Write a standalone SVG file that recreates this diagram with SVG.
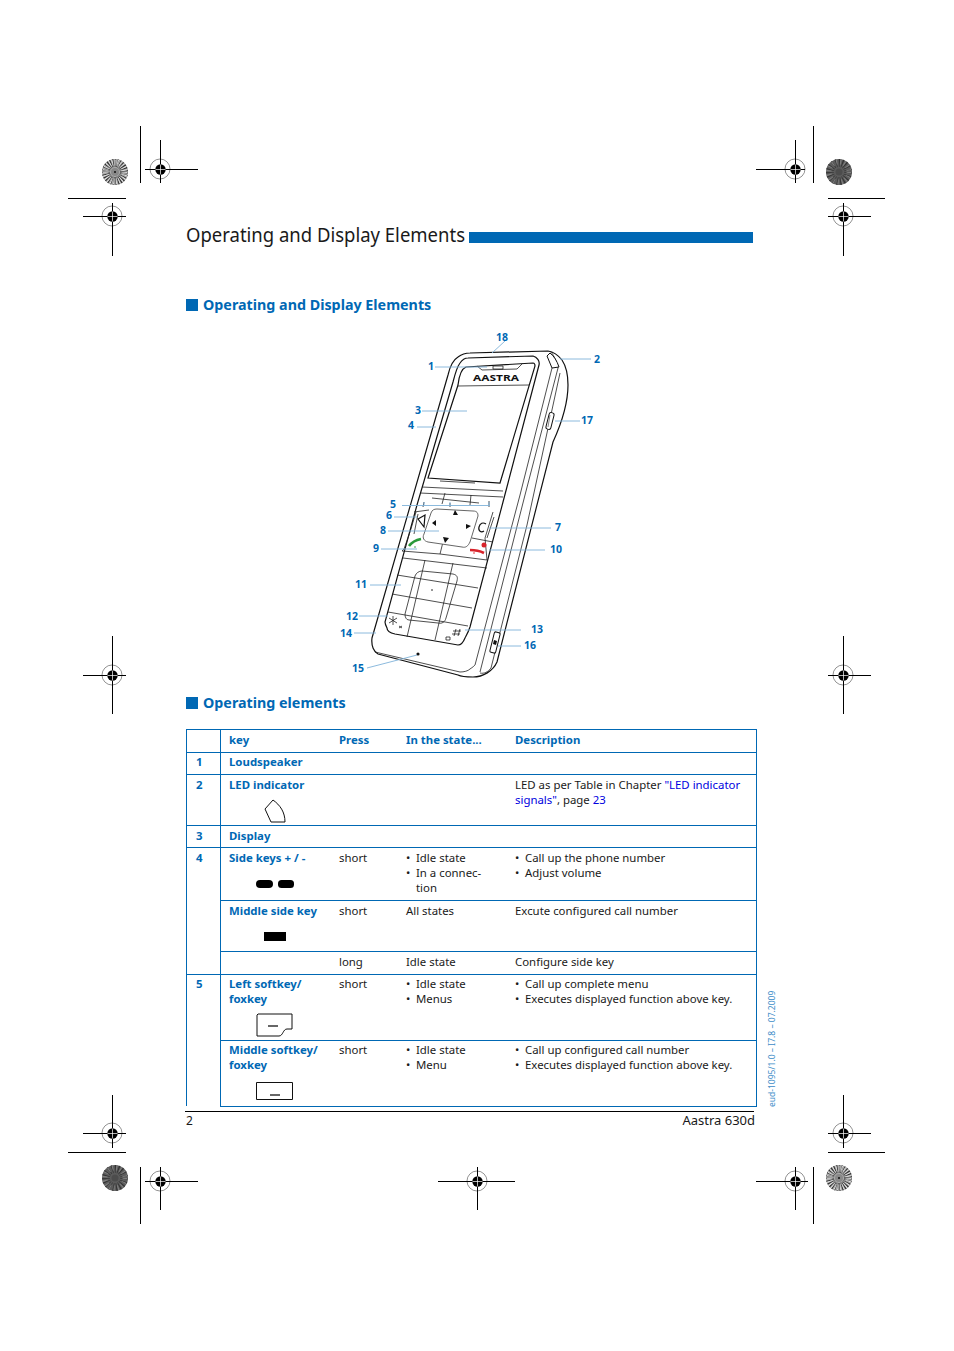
<svg xmlns="http://www.w3.org/2000/svg" width="954" height="1351" viewBox="0 0 954 1351">
<style>
text{font-family:"Noto Sans","Open Sans","Liberation Sans",sans-serif;font-size:11.4px;fill:#1a1a1a}
.b{font-weight:700;fill:#0068b4}
.h{font-weight:700;fill:#0068b4;font-size:14.3px}
.n{font-weight:700;fill:#0068b4;font-size:10.5px}
.l{fill:#0000e0}
.t{stroke:#0068b4;stroke-width:1;fill:none}
.r{stroke:#000;stroke-width:1;fill:none}
.p{stroke:#222;fill:none;stroke-width:.8}
.p2{stroke:#111;fill:none;stroke-width:1.2}
.c{stroke:#7fb2d9;stroke-width:.9;fill:none}
.ring{fill:none;stroke:#777;stroke-width:.8}
</style>
<defs>
<g id="reg"><circle r="5.2" fill="#000"/><path d="M0-5V5M-5 0H5" stroke="#fff" stroke-width=".7"/></g>
<g id="sunL"><circle r="13" fill="#aaa"/><circle r="9" fill="none" stroke="#333" stroke-width="8" stroke-dasharray="1 1.1"/><circle r="9.500" fill="none" stroke="#e4e4e4" stroke-width="6" stroke-dasharray=".8 1.8"/><circle r="4" fill="#888"/><circle r="1" fill="#111"/></g>
<g id="sunD"><circle r="13" fill="#5c5c5c"/><circle r="9" fill="none" stroke="#333" stroke-width="8" stroke-dasharray="1 2"/><circle r="10" fill="none" stroke="#808080" stroke-width="5" stroke-dasharray="1 3"/><circle r="3.500" fill="#4c4c4c"/></g>
</defs>
<rect width="954" height="1351" fill="#fff"/>
<g id="crop-marks">
<g class="ring"><circle class="ring" cx="160" cy="169" r="10"/><circle class="ring" cx="112" cy="216" r="10"/><circle class="ring" cx="795" cy="169" r="10"/><circle class="ring" cx="843" cy="216" r="10"/><circle class="ring" cx="112" cy="675" r="10"/><circle class="ring" cx="843" cy="675" r="10"/><circle class="ring" cx="112" cy="1133" r="10"/><circle class="ring" cx="160" cy="1181" r="10"/><circle class="ring" cx="477" cy="1181" r="10"/><circle class="ring" cx="795" cy="1181" r="10"/><circle class="ring" cx="843" cy="1133" r="10"/></g>
<path class="r" d="M140.500 126V183M145 169.500H198M160.500 140V183M68 198.500H126M83 216.500H126M112.500 203V256M813.500 126V183M756 169.500H805M795.500 140V183M828 198.500H885M828 216.500H871M843.500 203V256M83 675.500H126M112.500 636V714M828 675.500H871M843.500 636V714M68 1152.500H126M83 1133.500H126M112.500 1095V1148M140.500 1167V1224M145 1181.500H198M160.500 1167V1210M438 1181.500H515M477.500 1167V1210M756 1181.500H808M795.500 1167V1210M813.500 1167V1224M828 1152.500H885M828 1133.500H871M843.500 1095V1148"/>
<use href="#sunL" x="115" y="172"/><use href="#sunD" x="839" y="172"/><use href="#sunD" x="115" y="1178"/><use href="#sunL" x="839" y="1178"/>
<use href="#reg" x="160.500" y="169.500"/><use href="#reg" x="112.500" y="216.500"/><use href="#reg" x="795.500" y="169.500"/><use href="#reg" x="843.500" y="216.500"/><use href="#reg" x="112.500" y="675.500"/><use href="#reg" x="843.500" y="675.500"/><use href="#reg" x="112.500" y="1133.500"/><use href="#reg" x="160.500" y="1181.500"/><use href="#reg" x="477.500" y="1181.500"/><use href="#reg" x="795.500" y="1181.500"/><use href="#reg" x="843.500" y="1133.500"/>
</g>
<g id="title">
<text x="186" y="242" textLength="279" lengthAdjust="spacingAndGlyphs" style="font-size:19px">Operating and Display Elements</text>
<rect x="469" y="232" width="284" height="11" fill="#0068b4"/>
</g>
<g id="section-1"><rect x="186" y="299" width="12" height="12" fill="#0068b4"/><text class="h" x="203" y="310">Operating and Display Elements</text></g>
<g id="phone">
<path class="p2" d="M372 638L448 375C450 366 453 360 458 357C462 354 465 353 470 353L548 351C554 352 558 355 562 360C566 366 568 375 568 385C568 400 563 420 553 442L497 662C493 671 483 677 473 677C465 677 460 676 458 675L378 654C374 652 371 646 372 638Z"/>
<path class="p2" d="M417 505L453 382C455 374 457 367 460 363C462 360 465 358 468 358L533 356C537 357 540 361 539 365L503 502L470 627C468 633 466 636 465 638C463 643 461 645 458 645L395 634C390 633 387 631 387 628C386 626 385 624 385 622Z"/>
<path class="p" d="M375 652L460 672C464 672 468 671 470 669C473 667 474 666 475 665L520 495L552 368M480 672L525 495L558 368M550 351C553 354 556 359 558 368"/>
<path class="p" d="M480 673C484 674 488 672 491 668L527 525L560 373"/>
<path class="p2" d="M458 385C459 376 461 369 466 367L533 363C535 363 535 364 535 366L500 483L428 478Z"/>
<path class="p" d="M458 386L529 385M477 366L482 370L517 369L523 363M493 366H503V369H493Z"/>
<path class="p" d="M440 481L475 483M422 487L503 491M420 493L503 497"/>
<path class="p" d="M445 493L442 504M471 495L470 505M432 498L479 503M424 502L423 507M450 503L450 507M489 501L489 507M416 512L410 532L404 549L402 551L440 554L443 542M440 554L487 560M493 512L485 538L487 560M472 538L493 542M418 514L414 534M494 517L487 538M414 512L429 510"/>
<path stroke="#555" fill="#fff" stroke-width=".9" d="M437 509L473 511C477 511 478 513 478 516L470 542C468 546 466 548 462 547L428 542C424 541 422 538 424 534L431 513C432 510 434 509 437 509Z"/>
<path class="p" d="M403 558L487 568M397 575L478 588M392 594L472 608M388 612L468 626M425 560L407 637M453 563L435 640"/>
<path class="p" stroke="#555" d="M422 571L453 574C457 575 458 577 457 581L446 618C445 622 442 624 438 623L409 620C406 620 405 617 405 614L415 576C416 573 419 571 422 571Z"/>
<path class="p2" fill="none" d="M418 519L425 515L424 527Z"/>
<path fill="#111" d="M432 523L436 520L436 526ZM453 515L455 510L458 515ZM466 524L471 526L466 529ZM443 537L449 538L445 543Z"/>
<path d="M409 546C412 542 416 540 421 539" stroke="#2a9a3a" stroke-width="2.600" fill="none"/><circle cx="415" cy="547" r=".8" fill="#2a9a3a"/>
<path d="M470 550C475 550 480 551 484 553" stroke="#d8232a" stroke-width="2.600" fill="none"/><circle cx="484" cy="545" r="2.500" fill="#d8232a"/><circle cx="474" cy="553" r=".8" fill="#d8232a"/>
<path class="p2" stroke-width="1.600" d="M486 524C483 522 480 523 479 527C478 531 481 533 484 531"/>
<path class="p" d="M393 616V625M389 618L397 623M397 618L389 623M399 626L402 628M402 626L399 628M456 629L454 636M460 629L458 636M453 631H461M452 634H460M446 637H450V640H446Z"/>
<circle cx="418" cy="654" r="1.600" fill="#111"/><circle cx="432" cy="590" r=".8" fill="#111"/>
<rect x="-3" y="-10.500" width="6" height="21" rx="1.500" fill="#fff" stroke="#111" transform="translate(495 642.500) rotate(14)"/>
<path fill="#111" d="M494 640L497 641L496 645L493 644Z"/>
<rect x="-2.500" y="-8.500" width="5" height="17" rx="2" fill="#fff" stroke="#111" transform="translate(550 421) rotate(14)"/>
<path d="M550 415L548 427" stroke="#555" stroke-width=".7"/>
<path fill="#fff" stroke="#111" d="M547 356L550 353C554 356 557 361 559 367L552 368Z"/>
<text x="473" y="380.500" textLength="46" lengthAdjust="spacingAndGlyphs" style="font-size:8px;font-weight:700;fill:#111">AASTRA</text>
</g>
<g id="connectors">
<path class="c" d="M505 341L492 353M435 367H487M560 359H591M422 411H467M417 427H436M555 421H580M402 505.500L490 505.500M424 502V505M450 502V505M489 502V505M394 517H417M489 528H551M388 531L439 531M381 549H417M489 550H545M370 585H401M359 616H388M354 633H376M521 630H465M498 646H521M367 668L417 655"/>
</g>
<g id="labels">
<text class="n" x="496" y="341">18</text><text class="n" x="428" y="370">1</text><text class="n" x="594" y="363">2</text><text class="n" x="415" y="414">3</text><text class="n" x="408" y="429">4</text><text class="n" x="581" y="424">17</text><text class="n" x="390" y="508">5</text><text class="n" x="386" y="519">6</text><text class="n" x="555" y="531">7</text><text class="n" x="380" y="534">8</text><text class="n" x="373" y="552">9</text><text class="n" x="550" y="553">10</text><text class="n" x="355" y="588">11</text><text class="n" x="346" y="620">12</text><text class="n" x="531" y="633">13</text><text class="n" x="340" y="637">14</text><text class="n" x="352" y="672">15</text><text class="n" x="524" y="649">16</text>
</g>
<g id="section-2"><rect x="186" y="697" width="12" height="12" fill="#0068b4"/><text class="h" x="203" y="708">Operating elements</text></g>
<g id="table">
<path class="t" d="M186 729.500H757M186 752.500H757M186 774.500H757M186 825.500H757M186 847.500H757M220 900.500H757M220 951.500H757M186 974.500H757M220 1040.500H757M220 1106.500H757M186.500 729V1106M220.500 729V1106M756.500 729V1106"/>
<text class="b" x="229" y="744">key</text><text class="b" x="339" y="744">Press</text><text class="b" x="406" y="744">In the state...</text><text class="b" x="515" y="744">Description</text>
<text class="b" x="196" y="766">1</text><text class="b" x="229" y="766">Loudspeaker</text>
<text class="b" x="196" y="789">2</text><text class="b" x="229" y="789">LED indicator</text>
<text x="515" y="789">LED as per Table in Chapter <tspan class="l">"LED indicator</tspan></text>
<text x="515" y="804"><tspan class="l">signals"</tspan>, page <tspan class="l">23</tspan></text>
<path d="M265 809L273 800C280 805 285 812 285 822H271Z" fill="none" stroke="#111"/>
<text class="b" x="196" y="840">3</text><text class="b" x="229" y="840">Display</text>
<text class="b" x="196" y="862">4</text><text class="b" x="229" y="862">Side keys + / -</text>
<text x="339" y="862">short</text><text x="406" y="862">•</text><text x="416" y="862">Idle state</text><text x="406" y="877">•</text><text x="416" y="877">In a connec-</text><text x="416" y="892">tion</text>
<text x="515" y="862">•</text><text x="525" y="862">Call up the phone number</text><text x="515" y="877">•</text><text x="525" y="877">Adjust volume</text>
<rect x="256" y="880" width="17" height="8" rx="4" fill="#000"/><rect x="278" y="880" width="16" height="8" rx="3.500" fill="#000"/>
<text class="b" x="229" y="915">Middle side key</text><text x="339" y="915">short</text><text x="406" y="915">All states</text><text x="515" y="915">Excute configured call number</text>
<rect x="264" y="932" width="22" height="9" fill="#000"/>
<text x="339" y="966">long</text><text x="406" y="966">Idle state</text><text x="515" y="966">Configure side key</text>
<text class="b" x="196" y="988">5</text><text class="b" x="229" y="988">Left softkey/</text><text class="b" x="229" y="1003">foxkey</text>
<text x="339" y="988">short</text><text x="406" y="988">•</text><text x="416" y="988">Idle state</text><text x="406" y="1003">•</text><text x="416" y="1003">Menus</text>
<text x="515" y="988">•</text><text x="525" y="988">Call up complete menu</text><text x="515" y="1003">•</text><text x="525" y="1003">Executes displayed function above key.</text>
<path d="M258 1014H292V1029H287C283 1029 283 1036 279 1036H257V1015Z" fill="none" stroke="#111"/><path d="M268 1026H278" stroke="#000" stroke-width="1.200"/>
<text class="b" x="229" y="1054">Middle softkey/</text><text class="b" x="229" y="1069">foxkey</text>
<text x="339" y="1054">short</text><text x="406" y="1054">•</text><text x="416" y="1054">Idle state</text><text x="406" y="1069">•</text><text x="416" y="1069">Menu</text>
<text x="515" y="1054">•</text><text x="525" y="1054">Call up configured call number</text><text x="515" y="1069">•</text><text x="525" y="1069">Executes displayed function above key.</text>
<path d="M256.500 1082.500H292.500V1099.500H256.500Z" fill="none" stroke="#111"/><path d="M270 1095H280" stroke="#000" stroke-width="1.200"/>
</g>
<g id="footer">
<path d="M185 1111.500H754" stroke="#000" stroke-width="1"/>
<text x="186" y="1125" style="font-size:12px">2</text>
<text x="755" y="1125" text-anchor="end" style="font-size:13px">Aastra 630d</text>
<text transform="translate(775 1107) rotate(-90)" style="font-size:8.500px;fill:#3d8cc8">eud-1095/1.0 – I7.8 – 07.2009</text>
</g>
</svg>
